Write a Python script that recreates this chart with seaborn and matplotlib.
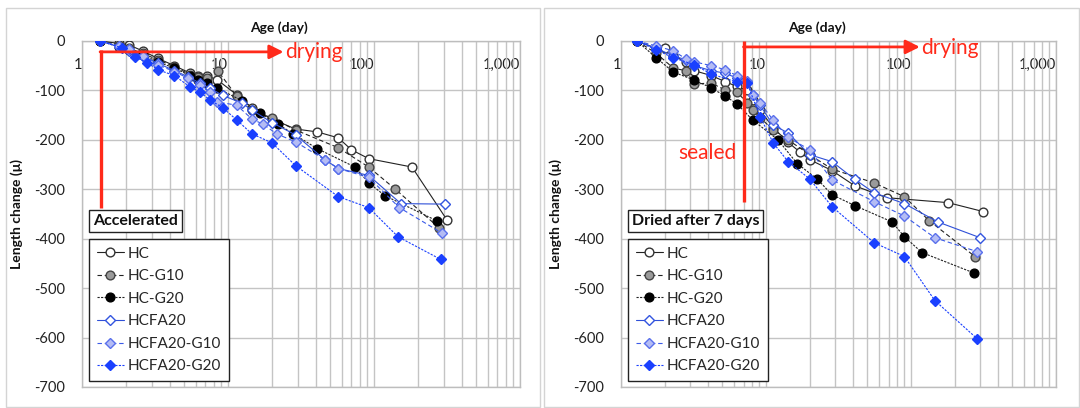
import matplotlib
matplotlib.use("Agg")
import matplotlib.pyplot as plt
import seaborn as sns
from matplotlib.lines import Line2D
from matplotlib.patches import Rectangle
from matplotlib.ticker import FixedLocator, LogLocator, NullFormatter

# ---------------- data ----------------
series_names = ["HC", "HC-G10", "HC-G20", "HCFA20", "HCFA20-G10", "HCFA20-G20"]

# Left panel: accelerated
acc_hc_age = [1.33, 1.8, 2.1, 2.6, 3.3, 4.3, 5.5, 6.2, 7.2, 8.4, 11.5, 14.6, 20, 29, 41, 57, 70, 92, 182, 316]
acc_hc_val = [0, -5, -8, -20, -35, -50, -65, -71, -71, -78, -109, -135, -158, -178, -184, -196, -220, -238, -255, -362]
acc_g10_age = [1.33, 1.8, 2.1, 2.6, 3.3, 4.3, 5.5, 6.2, 7.2, 8.5, 11.5, 14.6, 20, 29, 57, 92, 139, 279]
acc_g10_val = [0, -8, -15, -25, -38, -52, -68, -72, -75, -60, -112, -140, -156, -180, -216, -255, -299, -378]
acc_g20_age = [1.33, 1.8, 2.1, 2.6, 3.3, 4.3, 5.5, 6.2, 7.2, 8.4, 12.5, 16.6, 22, 28, 41, 74, 92, 119, 270]
acc_g20_val = [0, -12, -18, -28, -42, -55, -70, -78, -85, -95, -121, -146, -168, -188, -218, -255, -287, -313, -364]
acc_fa_age = [1.33, 1.8, 2.1, 2.6, 3.3, 4.3, 5.3, 6.4, 7.5, 9.2, 12.5, 14.6, 20, 29, 46, 57, 92, 153, 305]
acc_fa_val = [0, -12, -20, -30, -45, -60, -72, -85, -95, -110, -126, -140, -165, -190, -240, -258, -272, -329, -330]
acc_fag10_age = [1.33, 1.8, 2.1, 2.6, 3.3, 4.3, 5.3, 6.4, 7.5, 8.4, 11.5, 14.6, 17.3, 21.6, 29, 46, 57, 92, 149, 290]
acc_fag10_val = [0, -10, -16, -30, -48, -62, -75, -89, -103, -123, -130, -158, -168, -188, -204, -240, -258, -276, -337, -388]
acc_fag20_age = [1.33, 1.88, 2.3, 2.8, 3.3, 4.3, 5.5, 6.4, 7.5, 9.2, 11.5, 14.6, 20, 29, 57, 92, 146, 287]
acc_fag20_val = [0, -14, -32, -44, -58, -70, -93, -103, -119, -135, -160, -188, -206, -252, -315, -337, -396, -442]

# Right panel: dried after 7 days
dry_hc_age = [1.29, 1.75, 2.0, 2.3, 2.8, 3.2, 4.2, 5.2, 6.3, 7.4, 8.1, 9.1, 11.2, 14.2, 17.2, 20, 28.5, 41, 68, 180, 314]
dry_hc_val = [0, -15, -14, -30, -42, -60, -70, -82, -92, -100, -120, -140, -175, -205, -225, -240, -262, -293, -317, -327, -345]
dry_g10_age = [1.29, 1.75, 2.3, 2.8, 3.2, 4.2, 5.2, 6.3, 7.4, 8.1, 9.1, 11.2, 14.2, 20, 28.5, 55.6, 90, 134, 276]
dry_g10_val = [0, -25, -55, -60, -87, -85, -99, -103, -125, -140, -155, -180, -200, -230, -259, -287, -315, -364, -436]
dry_g20_age = [1.29, 1.75, 2.3, 3.2, 4.2, 5.2, 6.3, 8.1, 12.1, 16.4, 22.5, 28.5, 41, 74, 90, 119, 270]
dry_g20_val = [0, -34, -63, -79, -95, -111, -127, -160, -200, -248, -279, -311, -333, -366, -396, -428, -469]
dry_fa_age = [1.29, 1.75, 2.3, 2.8, 3.2, 4.2, 5.2, 6.3, 7.4, 8.1, 9.1, 11.2, 14.2, 20, 28.5, 41, 55.6, 90, 153, 300]
dry_fa_val = [0, -15, -30, -38, -50, -60, -65, -75, -82, -110, -130, -170, -186, -230, -244, -280, -307, -329, -366, -398]
dry_fag10_age = [1.29, 1.75, 2.3, 2.8, 3.2, 4.2, 5.2, 6.3, 7.4, 8.1, 9.1, 11.2, 14.2, 20, 28.5, 55.6, 90, 146, 285]
dry_fag10_val = [0, -10, -20, -36, -42, -50, -58, -70, -80, -110, -125, -160, -195, -220, -281, -325, -354, -398, -426]
dry_fag20_age = [1.29, 1.75, 2.3, 3.2, 4.2, 6.3, 7.4, 9.1, 11.2, 14.2, 20, 28.5, 55.6, 90, 146, 285]
dry_fag20_val = [0, -18, -34, -48, -67, -83, -85, -153, -206, -244, -279, -335, -408, -436, -525, -602]

x_tick_values = [1, 10, 100, 1000]
x_tick_labels = ["1", "10", "100", "1,000"]
y_tick_values = [0, -100, -200, -300, -400, -500, -600, -700]
y_tick_labels = ["0", "-100", "-200", "-300", "-400", "-500", "-600", "-700"]

left_series = [(acc_hc_age, acc_hc_val), (acc_g10_age, acc_g10_val), (acc_g20_age, acc_g20_val),
               (acc_fa_age, acc_fa_val), (acc_fag10_age, acc_fag10_val), (acc_fag20_age, acc_fag20_val)]
right_series = [(dry_hc_age, dry_hc_val), (dry_g10_age, dry_g10_val), (dry_g20_age, dry_g20_val),
                (dry_fa_age, dry_fa_val), (dry_fag10_age, dry_fag10_val), (dry_fag20_age, dry_fag20_val)]

# ---------------- styles ----------------
styles = [
    dict(color="#222222", linestyle="-", marker="o", mfc="white", mec="#333333", ms=6.3),
    dict(color="#222222", linestyle=(0, (4, 2.5)), marker="o", mfc="#9a9a9a", mec="#444444", ms=6.3),
    dict(color="#222222", linestyle=(0, (2, 1.2)), marker="o", mfc="#000000", mec="#000000", ms=6.3),
    dict(color="#2f50d8", linestyle="-", marker="D", mfc="white", mec="#3355e0", ms=5.4),
    dict(color="#3a5ae8", linestyle=(0, (4, 2.5)), marker="D", mfc="#b4bcf4", mec="#5a70ec", ms=5.4),
    dict(color="#1a40ff", linestyle=(0, (2, 1.2)), marker="D", mfc="#1a40ff", mec="#1a40ff", ms=5.4),
]

sns.set_theme(style="white")
plt.rcParams["font.family"] = ["Lato", "DejaVu Sans"]
plt.rcParams["axes.unicode_minus"] = False

W, H = 1080, 408
fig = plt.figure(figsize=(W / 100, H / 100), dpi=100)
fig.patch.set_facecolor("white")

# chart frames
fig.patches.append(Rectangle((6 / W, 1 - 407 / H), (540 - 6) / W, (407 - 8) / H,
                             transform=fig.transFigure, fill=False, edgecolor="#d4d4d4", lw=1.0))
fig.patches.append(Rectangle((544 / W, 1 - 407 / H), (1079 - 544) / W, (407 - 8) / H,
                             transform=fig.transFigure, fill=False, edgecolor="#d4d4d4", lw=1.0))

def px_axes(x0, x1, y0, y1):
    return fig.add_axes([x0 / W, 1 - y1 / H, (x1 - x0) / W, (y1 - y0) / H])

axL = px_axes(82, 520, 41, 387)
axR = px_axes(621, 1056, 41, 387)

red = "#ff2a1a"

def setup(ax, data, box_text):
    for (ages, vals), name, st in zip(data, series_names, styles):
        sns.lineplot(x=ages, y=vals, ax=ax, sort=False, color=st["color"], linestyle=st["linestyle"],
                     marker=st["marker"], markerfacecolor=st["mfc"], markeredgecolor=st["mec"],
                     markersize=st["ms"], markeredgewidth=1.0, linewidth=0.8, label=name, zorder=3)
    ax.set_xscale("log")
    ax.set_xlim(1, 1000)
    ax.set_ylim(-700, 0)
    ax.xaxis.set_major_locator(FixedLocator(x_tick_values))
    ax.set_xticklabels(x_tick_labels)
    ax.xaxis.set_minor_locator(LogLocator(base=10, subs=range(2, 10)))
    ax.xaxis.set_minor_formatter(NullFormatter())
    ax.set_yticks(y_tick_values)
    ax.set_yticklabels(y_tick_labels)
    ax.grid(True, which="major", axis="both", color="#c4c4c4", lw=1.0)
    ax.grid(True, which="minor", axis="x", color="#c4c4c4", lw=1.0)
    ax.set_axisbelow(True)
    for s in ax.spines.values():
        s.set_color("#bdbdbd")
        s.set_linewidth(1.0)
    ax.tick_params(axis="x", which="both", top=False, bottom=False, labeltop=True, labelbottom=False,
                   labelsize=10.5, pad=-28, colors="#222222")
    for lab in ax.get_xticklabels():
        lab.set_horizontalalignment("right")
    ax.tick_params(axis="y", which="both", left=False, labelsize=10.5, pad=6, colors="#222222")
    ax.text(0.45, 1.038, "Age (day)", transform=ax.transAxes, ha="center", va="center",
            fontsize=10, fontweight="bold", color="#111111")
    ax.set_ylabel("Length change (\u03bc)", fontsize=10, fontweight="bold", color="#111111", labelpad=8)
    ax.set_xlabel("")
    handles = [Line2D([], [], color=st["color"], linestyle=st["linestyle"], marker=st["marker"],
                      markerfacecolor=st["mfc"], markeredgecolor=st["mec"], markersize=st["ms"],
                      markeredgewidth=1.0, linewidth=0.8) for st in styles]
    leg = ax.legend(handles, series_names, loc="lower left", bbox_to_anchor=(0.016, 0.017),
                    borderaxespad=0, frameon=True, fancybox=False, fontsize=11, labelspacing=0.56,
                    handlelength=1.8, handletextpad=0.25, borderpad=0.5, edgecolor="#222222",
                    framealpha=1.0)
    leg.get_frame().set_linewidth(1.0)
    leg.set_zorder(5)
    ax.text(0.025, 0.481, box_text, transform=ax.transAxes, ha="left", va="center", fontsize=11.5,
            fontweight="bold", color="#111111", zorder=6,
            bbox=dict(boxstyle="square,pad=0.25", facecolor="white", edgecolor="#222222", lw=1.0))

setup(axL, left_series, "Accelerated")
setup(axR, right_series, "Dried after 7 days")

# annotations - left
axL.plot([1.35, 1.35], [-18, -338], color=red, lw=2.4, zorder=4, solid_capstyle="butt")
axL.annotate("", xy=(24, -22), xytext=(1.33, -22),
             arrowprops=dict(arrowstyle="-|>,head_length=0.7,head_width=0.35", color=red, lw=2.0,
                             shrinkA=0, shrinkB=0), zorder=4)
axL.text(24.5, -22, "drying", color=red, fontsize=15, ha="left", va="center", zorder=4)

# annotations - right
axR.plot([7.05, 7.05], [0, -325], color=red, lw=2.4, zorder=4, solid_capstyle="butt")
axR.annotate("", xy=(115, -12), xytext=(7.0, -12),
             arrowprops=dict(arrowstyle="-|>,head_length=0.7,head_width=0.35", color=red, lw=2.0,
                             shrinkA=0, shrinkB=0), zorder=4)
axR.text(117, -14, "drying", color=red, fontsize=15, ha="left", va="center", zorder=4)
axR.text(6.3, -226, "sealed", color=red, fontsize=15, ha="right", va="center", zorder=4)

fig.savefig("out.png", dpi=100)
